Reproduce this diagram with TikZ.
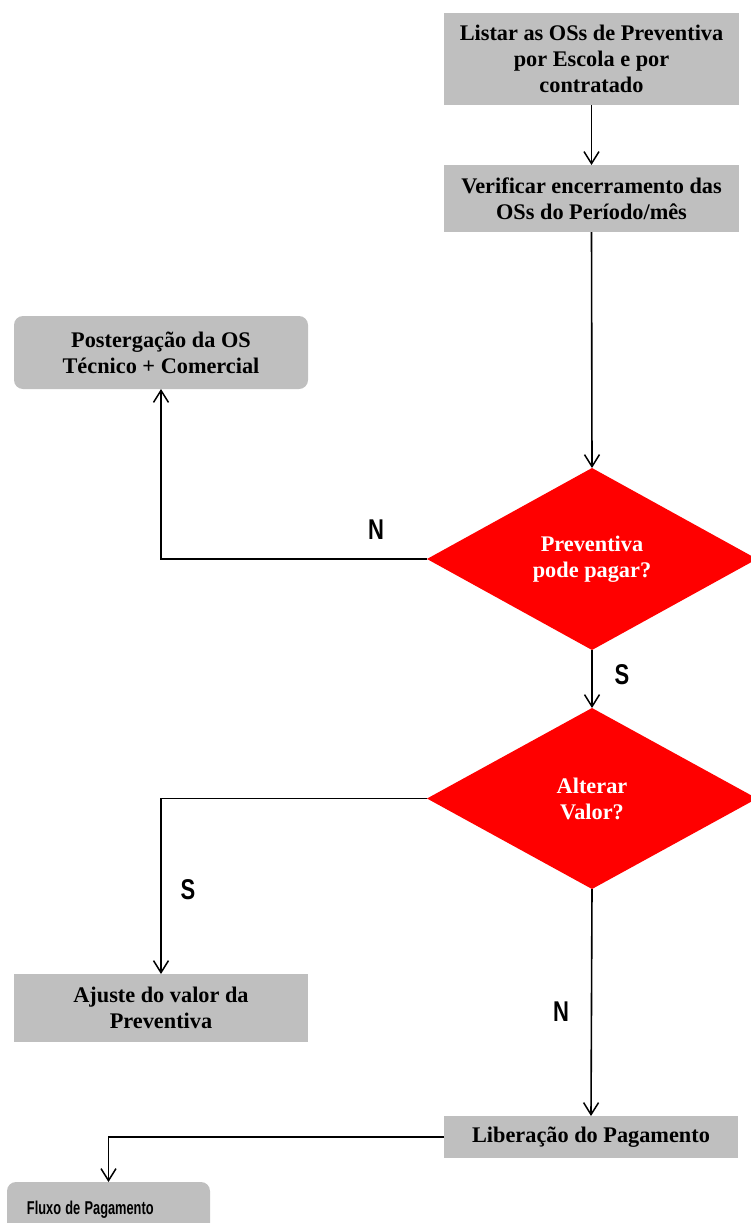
\documentclass[tikz,border=0pt]{standalone}
\usepackage{graphicx}
\usepackage{fontspec}
\setmainfont{Liberation Serif}
\newfontfamily\labelfont{Liberation Sans}
\usetikzlibrary{arrows.meta,shapes.geometric}
\definecolor{boxgrey}{HTML}{BFBFBF}
\definecolor{decred}{HTML}{FF0000}

\begin{document}
\begin{tikzpicture}[x=1pt,y=-1pt,
  every node/.style={inner sep=0pt, outer sep=0pt},
  procbox/.style={fill=boxgrey, align=center, minimum width=295pt,
    font=\bfseries\fontsize{22.3}{26}\selectfont},
  roundbox/.style={procbox, rounded corners=9pt},
  decision/.style={shape=diamond, fill=decred, text=white, align=center,
    minimum width=330pt, minimum height=182pt,
    font=\bfseries\fontsize{22.3}{26}\selectfont},
  answer/.style={font=\labelfont\bfseries\fontsize{22}{22}\selectfont},
  conn/.style={draw=black, line width=1.6pt,
    -{Straight Barb[length=12pt,width=15pt,line width=1.5pt]}},
]
\useasboundingbox (0,0) rectangle (751,1223);

% process steps
\node[procbox, minimum height=92pt] (listar) at (591.5,59)
  {Listar as OSs de Preventiva\\por Escola e por\\contratado};
\node[procbox, minimum height=67pt] (verif) at (591.5,198.5)
  {Verificar encerramento das\\OSs do Período/mês};
\node[roundbox, minimum width=294pt, minimum height=73pt] (poster) at (161,352.5)
  {Postergação da OS\\Técnico + Comercial};
\node[procbox, minimum width=294pt, minimum height=68pt] (ajuste) at (161,1008)
  {Ajuste do valor da\\Preventiva};
\node[procbox, minimum width=294pt, minimum height=42pt] (liber) at (591,1137)
  {Liberação do Pagamento};
\node[fill=boxgrey, rounded corners=9pt, anchor=north west, minimum height=56pt,
  text width=163pt, inner xsep=20pt, align=left,
  font=\labelfont\bfseries\fontsize{12.8}{14}\selectfont] (fluxo) at (7,1182)
  {\scalebox{1}[1.45]{Fluxo de Pagamento}};

% decisions
\node[decision] (pode) at (592,559) {Preventiva\\pode pagar?};
\node[decision, minimum height=181pt] (alterar) at (592,798.5) {Alterar\\Valor?};

% connectors
\draw[conn] (listar.south) -- (verif.north);
\draw[conn] (verif.south) -- (pode.north);
\draw[conn] (pode.west) -| (poster.south);
\draw[conn] (pode.south) -- (alterar.north);
\draw[conn] (alterar.west) -| (ajuste.north);
\draw[conn] (alterar.south) -- (liber.north);
\draw[conn] (liber.west) -| (fluxo.north);

% branch answers
\node[answer] (lblN1) at (376,530) {\scalebox{1}[1.3]{N}};
\node[answer] (lblS1) at (622,675) {\scalebox{1}[1.3]{S}};
\node[answer] (lblS2) at (188,890) {\scalebox{1}[1.3]{S}};
\node[answer] (lblN2) at (561,1012) {\scalebox{1}[1.3]{N}};
\end{tikzpicture}
\end{document}
